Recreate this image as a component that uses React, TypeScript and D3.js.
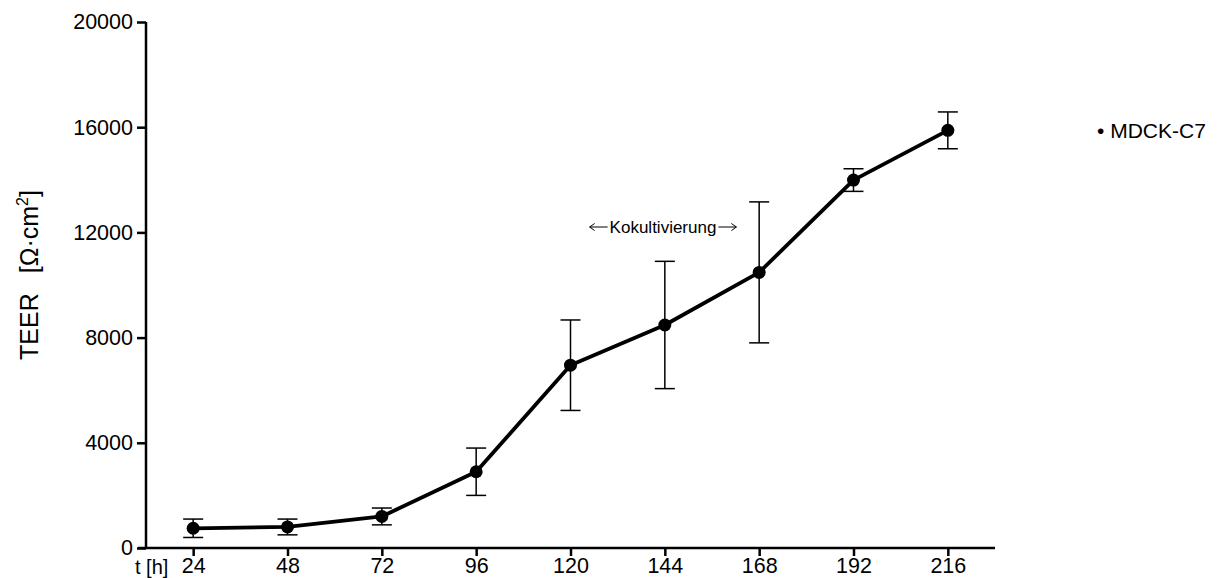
import { useEffect, useRef } from 'react'
import * as d3 from 'd3'

const hours = [24, 48, 72, 96, 120, 144, 168, 192, 216]
const teer = [750, 800, 1200, 2900, 6950, 8480, 10480, 13990, 15880]
const teerErr = [350, 300, 320, 900, 1720, 2420, 2680, 430, 700]
const yTicks = [0, 4000, 8000, 12000, 16000, 20000]
const seriesName = 'MDCK-C7'
const note = 'Kokultivierung'

const W = 1218
const H = 578
const FONT = 'Liberation Sans, Arial, Helvetica, sans-serif'

export default function App() {
  const ref = useRef<SVGSVGElement>(null)

  useEffect(() => {
    const svg = d3.select(ref.current)
    svg.selectAll('*').remove()

    const x = d3.scaleLinear().domain([12, 228]).range([146, 995])
    const y = d3.scaleLinear().domain([0, 20000]).range([548, 22])

    const g = svg.append('g').style('font-family', FONT)

    // y axis
    const yAxis = g.append('g').attr('transform', 'translate(146,0)')
      .call(d3.axisLeft(y).tickValues(yTicks).tickSize(9).tickPadding(4).tickFormat(d => String(d)))
    yAxis.select('.domain').attr('stroke', '#000').attr('stroke-width', 2.5)
      .attr('d', `M0,${y(20000)}V${y(0)}`)
    yAxis.selectAll('.tick line').attr('stroke', '#000').attr('stroke-width', 2.5)
    yAxis.selectAll('.tick text').style('font-size', '21.5px').style('font-family', FONT).attr('fill', '#000')

    // x axis
    const xAxis = g.append('g').attr('transform', `translate(0,${y(0)})`)
      .call(d3.axisBottom(x).tickValues(hours).tickSize(8).tickPadding(2).tickFormat(d => String(d)))
    xAxis.select('.domain').attr('stroke', '#000').attr('stroke-width', 2.5)
      .attr('d', `M${x(12) - 8},0H${x(228)}`)
    xAxis.selectAll('.tick line').attr('stroke', '#000').attr('stroke-width', 2.5)
    xAxis.selectAll('.tick text').style('font-size', '21.5px').style('font-family', FONT).attr('fill', '#000')

    g.append('text')
      .attr('x', 135).attr('y', 574)
      .style('font-size', '20px')
      .text('t [h]')

    // axis title
    const yt = g.append('text')
      .attr('transform', `translate(38,275) rotate(-90)`)
      .attr('text-anchor', 'middle')
      .style('font-size', '25px')
    yt.append('tspan').text('TEER')
    yt.append('tspan').attr('dx', 20).text('[\u03A9\u00B7cm')
    yt.append('tspan').attr('dy', -10).style('font-size', '16px').text('2')
    yt.append('tspan').attr('dy', 10).text(']')

    // error bars
    const eb = g.append('g').attr('stroke', '#000').attr('stroke-width', 1.5)
    hours.forEach((h, i) => {
      const cx = x(h)
      const top = y(teer[i] + teerErr[i])
      const bot = y(teer[i] - teerErr[i])
      eb.append('line').attr('x1', cx).attr('x2', cx).attr('y1', top).attr('y2', bot)
      eb.append('line').attr('x1', cx - 10).attr('x2', cx + 10).attr('y1', top).attr('y2', top)
      eb.append('line').attr('x1', cx - 10).attr('x2', cx + 10).attr('y1', bot).attr('y2', bot)
    })

    // line
    const line = d3.line<number>().x((_, i) => x(hours[i])).y(d => y(d))
    g.append('path')
      .attr('d', line(teer))
      .attr('fill', 'none')
      .attr('stroke', '#000')
      .attr('stroke-width', 3.8)
      .attr('stroke-linejoin', 'round')

    g.append('g').selectAll('circle').data(teer).join('circle')
      .attr('cx', (_, i) => x(hours[i]))
      .attr('cy', d => y(d))
      .attr('r', 6.5)
      .attr('fill', '#000')

    // annotation with arrows
    const ann = g.append('g')
    const t = ann.append('text')
      .attr('x', 663).attr('y', 233)
      .attr('text-anchor', 'middle')
      .style('font-size', '17px')
      .text(note)
    const bb = (t.node() as SVGTextElement).getBBox()
    const ay = 227
    const arrows = [
      [bb.x - 2, bb.x - 20],
      [bb.x + bb.width + 2, bb.x + bb.width + 20],
    ]
    arrows.forEach(([from, to]) => {
      const dir = to > from ? 1 : -1
      ann.append('path')
        .attr('d', `M${from},${ay}H${to} M${to - dir * 5},${ay - 3.5}L${to},${ay}L${to - dir * 5},${ay + 3.5}`)
        .attr('fill', 'none')
        .attr('stroke', '#000')
        .attr('stroke-width', 1)
    })

    // legend
    g.append('text')
      .attr('x', 1097).attr('y', 138)
      .style('font-size', '21px')
      .text(`\u2022 ${seriesName}`)
  }, [])

  return (
    <svg
      ref={ref}
      width={W}
      height={H}
      style={{ position: 'absolute', left: 0, top: 0, background: '#fff' }}
    />
  )
}
